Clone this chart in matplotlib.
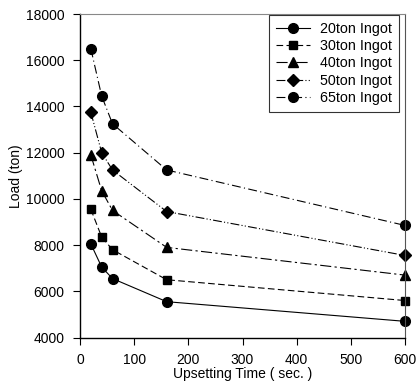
import numpy as np
import matplotlib
matplotlib.use('Agg')
from matplotlib import pyplot as plt

plt.rcParams['font.family'] = ['Liberation Sans', 'DejaVu Sans']

time_s = [20, 40, 60, 160, 600]
load_20 = [8050, 7050, 6550, 5550, 4700]
load_30 = [9550, 8350, 7800, 6500, 5600]
load_40 = [11900, 10350, 9500, 7900, 6700]
load_50 = [13750, 12000, 11250, 9450, 7550]
load_65 = [16500, 14450, 13250, 11250, 8850]
labels = ['20ton Ingot', '30ton Ingot', '40ton Ingot', '50ton Ingot', '65ton Ingot']

fig = plt.figure(figsize=(4.16, 3.87), dpi=100)
ax = fig.add_axes([80 / 416, 1 - 337.5 / 387, 325 / 416, 323.5 / 387])

series = [load_20, load_30, load_40, load_50, load_65]
markers = ['o', 's', '^', 'D', 'o']
styles = ['-', (0, (6, 3)), (0, (10, 3, 2, 3)), (0, (8, 2, 1, 2, 1, 2)), (0, (8, 3, 1, 3))]
sizes = [7, 6.3, 7.3, 6, 7]
for y, lab, m, ls, ms in zip(series, labels, markers, styles, sizes):
    ax.plot(time_s, y, color='black', linestyle=ls, linewidth=0.8,
            marker=m, markersize=ms, label=lab, clip_on=False)

ax.set_xlim(0, 600)
ax.set_ylim(4000, 18000)
ax.set_xticks(np.arange(0, 601, 100))
ax.set_yticks(np.arange(4000, 18001, 2000))
ax.tick_params(direction='out', length=5, width=0.8, labelsize=10)
ax.tick_params(axis='x', pad=6)
ax.tick_params(axis='y', pad=6)
ax.set_xlabel('Upsetting Time ( sec. )', fontsize=10, labelpad=0)
ax.set_ylabel('Load (ton)', fontsize=10, labelpad=2)
for s in ['left', 'bottom']:
    ax.spines[s].set_linewidth(1.0)
ax.spines['top'].set_color('#888888')
ax.spines['right'].set_color('#555555')

leg = ax.legend(loc='upper right', bbox_to_anchor=(0.982, 0.997), fontsize=10.3,
                frameon=True, fancybox=False, edgecolor='black', borderaxespad=0.0,
                handlelength=2.4, labelspacing=0.22, borderpad=0.5, handletextpad=0.7)
leg.get_frame().set_linewidth(0.8)

plt.savefig('out.png')
